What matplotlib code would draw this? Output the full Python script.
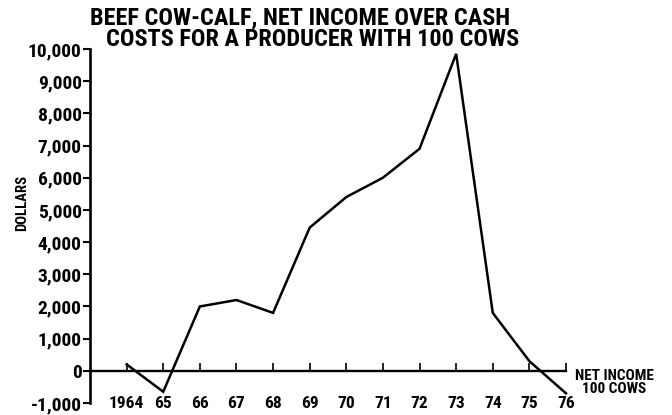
import matplotlib
matplotlib.use("Agg")
import matplotlib.pyplot as plt
from matplotlib.ticker import FuncFormatter

plt.rcParams['font.family'] = ['Roboto Condensed', 'DejaVu Sans']
plt.rcParams['font.weight'] = 'bold'

# net income over cash costs, 100-cow herd
years = [1964, 1965, 1966, 1967, 1968, 1969, 1970, 1971, 1972, 1973, 1974, 1975, 1976]
net_income = [200, -650, 2000, 2200, 1800, 4450, 5400, 6000, 6900, 9850, 1800, 300, -700]
year_labels = ["1964", "65", "66", "67", "68", "69", "70", "71", "72", "73", "74", "75", "76"]
y_ticks = list(range(-1000, 10001, 1000))

fig = plt.figure(figsize=(6.72, 4.15), dpi=100)
W, H = 672, 415
ax = fig.add_axes([90 / W, (H - 403) / H, (566 - 90) / W, (403 - 49) / H])

ax.plot(years, net_income, color='black', lw=1.8, solid_joinstyle='miter', clip_on=False)

ax.set_xlim(1963, 1976)
ax.set_ylim(-1000, 10000)

# y axis
ax.spines['top'].set_visible(False)
ax.spines['right'].set_visible(False)
ax.spines['left'].set_linewidth(1.9)
ax.spines['left'].set_bounds(-1000, 10000)
ax.set_yticks(y_ticks)
ax.yaxis.set_major_formatter(FuncFormatter(lambda v, p: f"{int(v):,}"))
ax.tick_params(axis='y', direction='out', length=5, width=1.5, pad=1, labelsize=14)

# zero line doubles as the x axis, ticks pointing up
ax.spines['bottom'].set_position(('data', 0))
ax.spines['bottom'].set_linewidth(1.7)
ax.set_xticks(years)
ax.set_xticklabels([])
ax.tick_params(axis='x', direction='in', length=6, width=1.2)

# year labels sit along the bottom of the frame
sec = ax.secondary_xaxis('bottom')
sec.spines['bottom'].set_visible(False)
sec.set_xticks(years)
sec.set_xticklabels(year_labels)
sec.tick_params(length=0, pad=0, labelsize=12.5)
for lab in sec.get_xticklabels():
    lab.set_va('center')

fig.text(22 / W, (H - 203) / H, "DOLLARS", rotation=90, ha='center', va='center', fontsize=10.5)

ax.text(1976.25, -150, "NET INCOME", ha='left', va='center', fontsize=11, clip_on=False)
ax.text(1976.45, -560, "100 COWS", ha='left', va='center', fontsize=11, clip_on=False)

fig.text(300 / W, (H - 18.5) / H, "BEEF COW-CALF, NET INCOME OVER CASH", ha='center', va='center', fontsize=17.5)
fig.text(313 / W, (H - 40) / H, "COSTS FOR A PRODUCER WITH 100 COWS", ha='center', va='center', fontsize=17.5)

fig.savefig("out.png", dpi=100, facecolor='white')
